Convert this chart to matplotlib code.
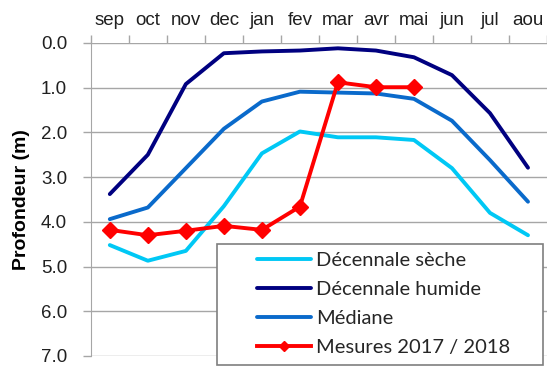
import numpy as np
import matplotlib
matplotlib.use('Agg')
import matplotlib.pyplot as plt
from matplotlib.patches import Rectangle

# profondeur de la nappe (m) par mois, de septembre a aout
mois = ['sep', 'oct', 'nov', 'dec', 'jan', 'fev', 'mar', 'avr', 'mai', 'jun', 'jul', 'aou']
decennale_seche = [4.52, 4.87, 4.65, 3.65, 2.47, 1.98, 2.11, 2.11, 2.17, 2.80, 3.80, 4.30]
decennale_humide = [3.38, 2.50, 0.92, 0.23, 0.19, 0.17, 0.12, 0.17, 0.32, 0.72, 1.57, 2.79]
mediane = [3.94, 3.68, 2.80, 1.92, 1.31, 1.09, 1.11, 1.13, 1.25, 1.74, 2.62, 3.55]
mesures = [4.18, 4.30, 4.20, 4.09, 4.18, 3.66, 0.88, 0.99, 0.99]

x = np.arange(len(mois))

fig = plt.figure(figsize=(5.47, 3.67), dpi=100)
ax = fig.add_axes([0.166, 0.030, 0.834, 0.853])

ax.plot(x, decennale_seche, color='#00C8F5', lw=2.8, label='Décennale sèche', solid_capstyle='round')
ax.plot(x, decennale_humide, color='#000080', lw=2.8, label='Décennale humide', solid_capstyle='round')
ax.plot(x, mediane, color='#0A6ACB', lw=2.8, label='Médiane', solid_capstyle='round')
ax.plot(x[:len(mesures)], mesures, color='#FF0000', lw=2.8, marker='D', markersize=8,
        label='Mesures 2017 / 2018')

txt = '#202020'
ax.set_xlim(-0.5, 11.5)
ax.set_ylim(7, 0)
ax.set_yticks(np.arange(0, 8, 1))
ax.set_yticklabels(['%.1f' % v for v in range(8)], fontsize=13.5, family='Liberation Sans', color=txt)
ax.yaxis.grid(True, color='#A6A6A6', lw=1)
ax.set_axisbelow(True)

# mois en haut, traits de graduation entre les categories
ax.xaxis.tick_top()
ax.set_xticks(np.arange(-0.5, 12, 1))
ax.set_xticklabels([])
ax.set_xticks(x, minor=True)
ax.set_xticklabels(mois, minor=True, fontsize=13.5, family='Liberation Sans', color=txt)
ax.tick_params(axis='x', which='major', direction='out', length=6, color='#A6A6A6', width=1)
ax.tick_params(axis='x', which='minor', length=0, pad=10)
ax.tick_params(axis='y', direction='out', length=6, color='#A6A6A6', width=1, pad=11)

for s in ['right', 'bottom', 'top']:
    ax.spines[s].set_visible(False)
ax.spines['left'].set_color('#A6A6A6')

ax.set_ylabel('Profondeur (m)', fontsize=14, fontweight='bold', family='Liberation Sans',
              labelpad=8, color='black')

# cadre de la legende
ax.add_patch(Rectangle((0.276, -0.029), 0.715, 0.387, transform=ax.transAxes,
                       facecolor='white', edgecolor='#7F7F7F', lw=1.2, clip_on=False, zorder=5))
leg = ax.legend(loc='upper left', bbox_to_anchor=(0.364, 0.333), frameon=False,
                prop={'family': 'Lato', 'size': 14.5}, handlelength=2.7,
                handletextpad=0.25, labelspacing=0.6, borderpad=0, borderaxespad=0,
                markerscale=0.7)
leg.set_zorder(6)
for t in leg.get_texts():
    t.set_color('#262626')

fig.savefig('out.png', dpi=100)
